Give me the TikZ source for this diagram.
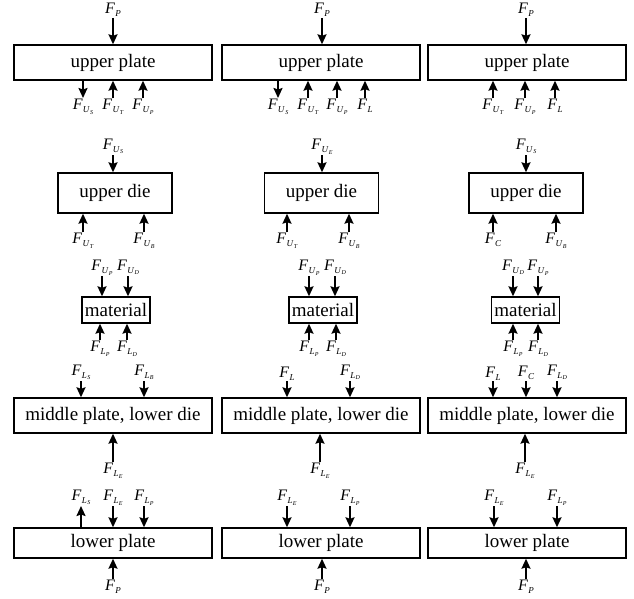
\documentclass[tikz,border=0pt]{standalone}
\usepackage{fontspec}
\setmainfont{Liberation Serif}
\usetikzlibrary{arrows.meta}

% force symbols: F with a subscript, or with a subscript that carries its own subscript
\newcommand\ForceA[1]{\textit{F}\kern0.3pt\raisebox{-3pt}{\fontsize{9}{9}\selectfont\textit{#1}}}
\newcommand\ForceB[2]{\textit{F}\kern0.3pt\raisebox{-3pt}{\fontsize{9}{9}\selectfont\textit{#1}\kern0.3pt\raisebox{-1.8pt}{\fontsize{6}{6}\selectfont\textit{#2}}}}

% arrows onto / away from the top and bottom faces of a part
\newcommand\inTop[5]{\node[flab,anchor=south] (#1) at (#2,#3) {#5};
  \draw[force] (#1.south) -- (#1.south |- #4.north);}
\newcommand\inBot[5]{\node[flab,anchor=north] (#1) at (#2,#3) {#5};
  \draw[force] (#1.north) -- (#1.north |- #4.south);}
\newcommand\outBot[5]{\node[flab,anchor=north] (#1) at (#2,#3) {#5};
  \draw[force] (#1.north |- #4.south) -- (#1.north);}
\newcommand\outTop[5]{\node[flab,anchor=south] (#1) at (#2,#3) {#5};
  \draw[force] (#1.south |- #4.north) -- (#1.south);}

\tikzset{
  part/.style={draw, line width=1.4pt, inner sep=0pt, font=\fontsize{19}{19}\selectfont},
  plate/.style={part, minimum width=198pt, minimum height=35pt},
  lplate/.style={part, minimum width=198pt, minimum height=30pt},
  diebox/.style={part, minimum width=114pt, minimum height=40pt},
  matbox/.style={part, minimum width=68pt, minimum height=26pt},
  flab/.style={inner sep=0.8pt, font=\fontsize{16}{16}\selectfont},
  force/.style={line width=1.8pt, -{Stealth[length=10pt,width=9pt,inset=1.5pt]}}
}

\begin{document}
\begin{tikzpicture}[x=1pt,y=-1pt]
\useasboundingbox (0,0) rectangle (634,599);

% ---------------- parts ----------------
\node[plate]  (up1) at (113,62.5) {upper plate};
\node[plate]  (up2) at (321,62.5) {upper plate};
\node[plate]  (up3) at (527,62.5) {upper plate};
\node[diebox] (ud1) at (115,193) {upper die};
\node[diebox] (ud2) at (321.5,193) {upper die};
\node[diebox] (ud3) at (526,193) {upper die};
\node[matbox] (ma1) at (116,310) {material};
\node[matbox] (ma2) at (323,310) {material};
\node[matbox] (ma3) at (525.5,310) {material};
\node[plate]  (mp1) at (113,415.5) {middle plate, lower die};
\node[plate]  (mp2) at (321,415.5) {middle plate, lower die};
\node[plate]  (mp3) at (527,415.5) {middle plate, lower die};
\node[lplate] (lp1) at (113,543) {lower plate};
\node[lplate] (lp2) at (321,543) {lower plate};
\node[lplate] (lp3) at (527,543) {lower plate};

% ---------------- upper plate ----------------
\inTop{fp1}{113}{18}{up1}{\ForceA{P}}
\outBot{a11}{83}{98}{up1}{\ForceB{U}{S}}
\inBot{a12}{113}{98}{up1}{\ForceB{U}{T}}
\inBot{a13}{143}{98}{up1}{\ForceB{U}{P}}

\inTop{fp2}{322}{18}{up2}{\ForceA{P}}
\outBot{a21}{278}{98}{up2}{\ForceB{U}{S}}
\inBot{a22}{308}{98}{up2}{\ForceB{U}{T}}
\inBot{a23}{337}{98}{up2}{\ForceB{U}{P}}
\inBot{a24}{365}{98}{up2}{\ForceA{L}}

\inTop{fp3}{526}{18}{up3}{\ForceA{P}}
\inBot{a31}{493}{98}{up3}{\ForceB{U}{T}}
\inBot{a32}{525}{98}{up3}{\ForceB{U}{P}}
\inBot{a33}{555}{98}{up3}{\ForceA{L}}

% ---------------- upper die ----------------
\inTop{b10}{113}{155}{ud1}{\ForceB{U}{S}}
\inBot{b11}{83}{232}{ud1}{\ForceB{U}{T}}
\inBot{b12}{144}{232}{ud1}{\ForceB{U}{B}}

\inTop{b20}{322}{155}{ud2}{\ForceB{U}{E}}
\inBot{b21}{287}{232}{ud2}{\ForceB{U}{T}}
\inBot{b22}{349}{232}{ud2}{\ForceB{U}{B}}

\inTop{b30}{526}{155}{ud3}{\ForceB{U}{S}}
\inBot{b31}{493}{232}{ud3}{\ForceA{C}}
\inBot{b32}{556}{232}{ud3}{\ForceB{U}{B}}

% ---------------- material ----------------
\inTop{c11}{102}{276}{ma1}{\ForceB{U}{P}}
\inTop{c12}{128}{276}{ma1}{\ForceB{U}{D}}
\inBot{c13}{100}{340}{ma1}{\ForceB{L}{P}}
\inBot{c14}{127}{340}{ma1}{\ForceB{L}{D}}

\inTop{c21}{309}{276}{ma2}{\ForceB{U}{P}}
\inTop{c22}{335}{276}{ma2}{\ForceB{U}{D}}
\inBot{c23}{309}{340}{ma2}{\ForceB{L}{P}}
\inBot{c24}{336}{340}{ma2}{\ForceB{L}{D}}

\inTop{c31}{513}{276}{ma3}{\ForceB{U}{D}}
\inTop{c32}{538}{276}{ma3}{\ForceB{U}{P}}
\inBot{c33}{513}{340}{ma3}{\ForceB{L}{P}}
\inBot{c34}{538}{340}{ma3}{\ForceB{L}{D}}

% ---------------- middle plate, lower die ----------------
\inTop{d11}{81}{381}{mp1}{\ForceB{L}{S}}
\inTop{d12}{144}{381}{mp1}{\ForceB{L}{B}}
\inBot{d13}{113}{462}{mp1}{\ForceB{L}{E}}

\inTop{d21}{287}{381}{mp2}{\ForceA{L}}
\inTop{d22}{350}{381}{mp2}{\ForceB{L}{D}}
\inBot{d23}{320}{462}{mp2}{\ForceB{L}{E}}

\inTop{d31}{493}{381}{mp3}{\ForceA{L}}
\inTop{d32}{526}{381}{mp3}{\ForceA{C}}
\inTop{d33}{557}{381}{mp3}{\ForceB{L}{D}}
\inBot{d34}{525}{462}{mp3}{\ForceB{L}{E}}

% ---------------- lower plate ----------------
\outTop{e11}{81}{506}{lp1}{\ForceB{L}{S}}
\inTop{e12}{113}{506}{lp1}{\ForceB{L}{E}}
\inTop{e13}{144}{506}{lp1}{\ForceB{L}{P}}
\inBot{e14}{113}{579}{lp1}{\ForceA{P}}

\inTop{e21}{287}{506}{lp2}{\ForceB{L}{E}}
\inTop{e22}{350}{506}{lp2}{\ForceB{L}{P}}
\inBot{e23}{322}{579}{lp2}{\ForceA{P}}

\inTop{e31}{494}{506}{lp3}{\ForceB{L}{E}}
\inTop{e32}{557}{506}{lp3}{\ForceB{L}{P}}
\inBot{e33}{526}{579}{lp3}{\ForceA{P}}
\end{tikzpicture}
\end{document}
